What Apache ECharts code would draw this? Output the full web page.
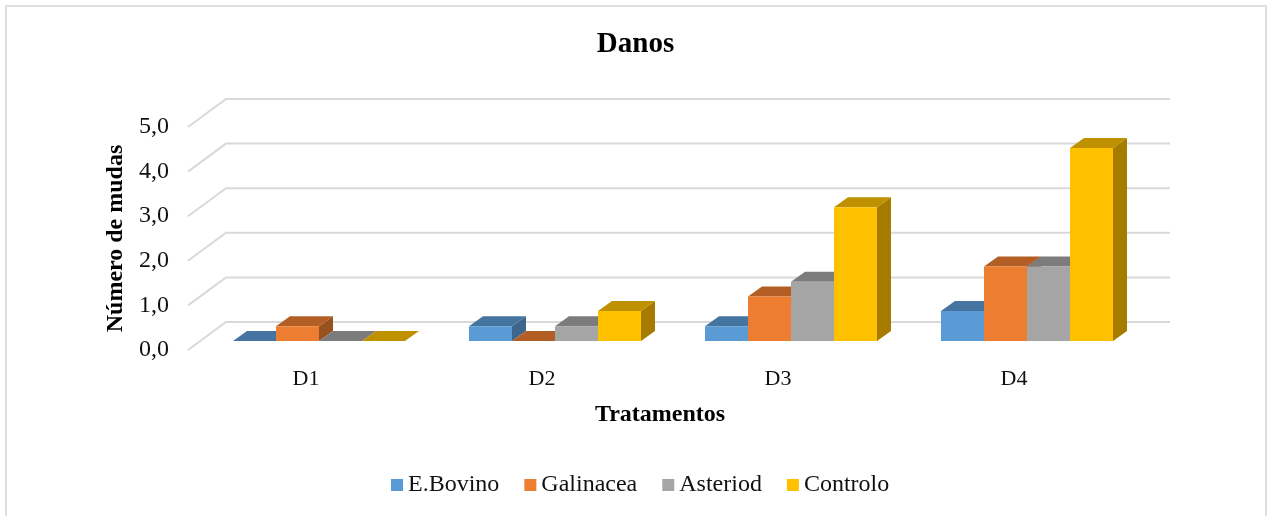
<!DOCTYPE html>
<html><head><meta charset="utf-8">
<style>html,body{margin:0;padding:0;background:#fff}#c{width:1268px;height:516px}</style>
<script src="https://cdn.jsdelivr.net/npm/echarts@6/dist/echarts.min.js"></script>
</head><body><div id="c"></div>
<script>
const categories = ['D1','D2','D3','D4'];
const eBovino   = [0, 0.33, 0.33, 0.67];
const galinacea = [0.33, 0, 1, 1.67];
const asteriod  = [0, 0.33, 1.33, 1.67];
const controlo  = [0, 0.67, 3, 4.33];
const yTicks = [0,1,2,3,4,5];
const seriesNames = ['E.Bovino','Galinacea','Asteriod','Controlo'];
const seriesValues = [eBovino, galinacea, asteriod, controlo];
const faceColors = ['#5B9BD5','#ED7D31','#A5A5A5','#FFC000'];
const topColors  = ['#4674A0','#B25E25','#7C7C7C','#BF9000'];
const sideColors = ['#3E668C','#9A5120','#6C6C6C','#A67C00'];
const FONT = '"Liberation Serif","Times New Roman",serif';

// projection offsets of the pseudo-3D box
const wallDX = 38, wallDY = -28;   // front plane -> back wall
const barDX = 13, barDY = -9;      // front plane -> bar front
const depthDX = 14, depthDY = -10; // bar depth
const barFrac = 172/236/4;

function barItem(si){
  return function(params, api){
    const cat = api.value(0), val = api.value(1);
    const top = api.coord([cat,val]), base = api.coord([cat,0]);
    const band = api.size([1,0])[0], w = band*barFrac;
    const x0 = top[0] - 2*w + si*w + barDX, x1 = x0 + w;
    const yt = top[1] + barDY, yb = base[1] + barDY;
    const kids = [];
    kids.push({type:'polygon', shape:{points:[[x1,yt],[x1+depthDX,yt+depthDY],[x1+depthDX,yb+depthDY],[x1,yb]]},
      style:{fill:sideColors[si]}});
    kids.push({type:'polygon', shape:{points:[[x0,yt],[x1,yt],[x1+depthDX,yt+depthDY],[x0+depthDX,yt+depthDY]]},
      style:{fill:topColors[si]}});
    kids.push({type:'rect', shape:{x:x0,y:yt,width:w,height:yb-yt}, style:{fill:faceColors[si]}});
    return {type:'group', children:kids};
  };
}
const series = [{
  type:'custom', silent:true, z:1, clip:false,
  encode:{y:0}, data:yTicks.map(v=>[v]), tooltip:{show:false},
  renderItem:function(params, api){
    const p = api.coord([0, api.value(0)]);
    const xs = api.size([1,0])[0];
    const left = p[0]-xs/2, right = left + xs*categories.length;
    return {type:'polyline', shape:{points:[[left,p[1]],[left+wallDX,p[1]+wallDY],[right+wallDX,p[1]+wallDY]]},
      style:{stroke:'#D9D9D9', lineWidth:2, fill:'none'}};
  }
}];
seriesNames.forEach((n,si)=>{
  series.push({name:n, type:'custom', z:2+si, clip:false, renderItem:barItem(si),
    itemStyle:{color:faceColors[si]}, encode:{x:0,y:1},
    data:categories.map((c,i)=>[i, seriesValues[si][i]])});
});
const chart = echarts.init(document.getElementById('c'), null, {renderer:'canvas'});
chart.setOption({
  animation:false,
  backgroundColor:'#fff',
  textStyle:{fontFamily:FONT},
  title:{text:'Danos', left:635.5, top:30, textAlign:'center', padding:0,
    textStyle:{fontFamily:FONT, fontSize:29, fontWeight:'bold', color:'#000'}},
  legend:{data:seriesNames, left:391, top:473, padding:0, itemWidth:12, itemHeight:12, itemGap:25,
    icon:'rect', textStyle:{fontFamily:FONT, fontSize:24, color:'#111'}},
  grid:{left:188, right:136, top:127, height:223, containLabel:false},
  xAxis:{type:'category', data:categories, name:'Tratamentos', nameLocation:'middle', nameGap:53,
    axisLine:{show:false}, axisTick:{show:false}, splitLine:{show:false},
    axisLabel:{fontFamily:FONT, fontSize:22, color:'#111', margin:18},
    nameTextStyle:{fontFamily:FONT, fontSize:24, fontWeight:'bold', color:'#000'}},
  yAxis:{type:'value', min:0, max:5, interval:1, name:'Número de mudas', nameLocation:'middle', nameGap:55,
    axisLine:{show:false}, axisTick:{show:false}, splitLine:{show:false},
    axisLabel:{fontFamily:FONT, fontSize:24, color:'#111', margin:19, formatter:v=>v.toFixed(1).replace('.',',')},
    nameTextStyle:{fontFamily:FONT, fontSize:24, fontWeight:'bold', color:'#000'}},
  graphic:[{type:'rect', silent:true, z:-1, shape:{x:6,y:6,width:1260,height:520},
    style:{fill:'none', stroke:'#DEDEDE', lineWidth:2}}],
  series:series
});
</script></body></html>
